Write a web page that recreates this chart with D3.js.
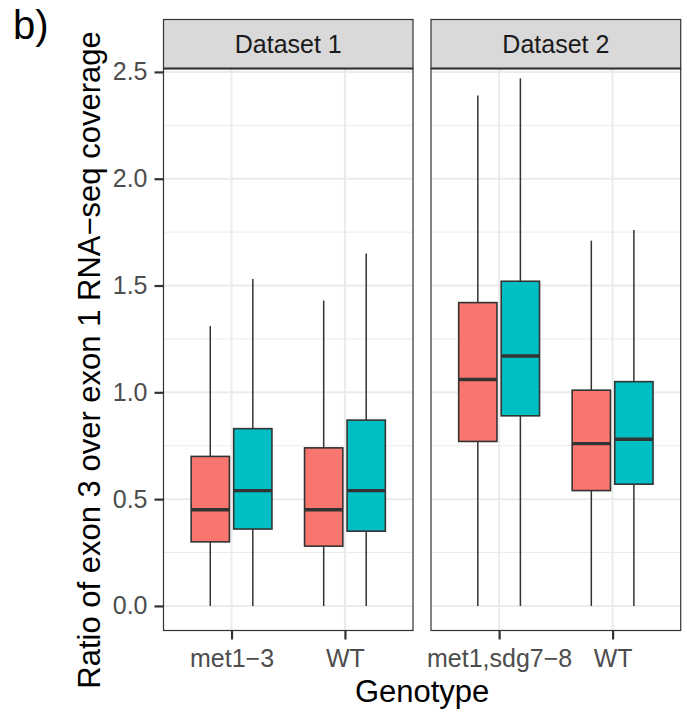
<!DOCTYPE html>
<html>
<head>
<meta charset="utf-8">
<script src="https://cdn.jsdelivr.net/npm/d3@7"></script>
<style>
  body { margin: 0; background: #fff; }
  svg { display: block; font-family: "Liberation Sans", Arial, sans-serif; }
</style>
</head>
<body>
<svg width="687" height="716"></svg>
<script>
// facets, genotypes per facet and the two fill groups
var panels = ['Dataset 1', 'Dataset 2']
var genotypes = [['met1\u22123', 'WT'], ['met1,sdg7\u22128', 'WT']]
var groups = ['g1', 'g2']
var fills = ['#F8766D', '#00BFC4']

// box stats, order: panel > genotype > group
var whiskerLow  = [0, 0, 0, 0, 0, 0, 0, 0]
var q1          = [0.30, 0.36, 0.28, 0.35, 0.77, 0.89, 0.54, 0.57]
var median      = [0.45, 0.54, 0.45, 0.54, 1.06, 1.17, 0.76, 0.78]
var q3          = [0.70, 0.83, 0.74, 0.87, 1.42, 1.52, 1.01, 1.05]
var whiskerHigh = [1.31, 1.53, 1.43, 1.65, 2.39, 2.47, 1.71, 1.76]

var yTicks = [0, 0.5, 1.0, 1.5, 2.0, 2.5]
var yMinor = [0.25, 0.75, 1.25, 1.75, 2.25]

var svg = d3.select('svg')
var panelX = [[163.5, 413], [431, 680.7]]
var stripTop = 19.5, panelTop = 68.5, panelBottom = 630.5

var y = d3.scaleLinear().domain([-0.115, 2.516]).range([panelBottom, panelTop])

panels.forEach(function(name, p){
    var x0 = panelX[p][0], x1 = panelX[p][1]
    var x = d3.scalePoint().domain(genotypes[p]).range([x0, x1]).padding(0.6)
    var sub = d3.scaleBand().domain(groups)
        .range([-0.375 * x.step(), 0.375 * x.step()])
    var bw = sub.bandwidth() * 0.9
    var g = svg.append('g')

    g.append('rect').attr('x', x0).attr('y', panelTop)
        .attr('width', x1 - x0).attr('height', panelBottom - panelTop)
        .attr('fill', '#fff')

    g.selectAll('.minor').data(yMinor).enter().append('line')
        .attr('x1', x0).attr('x2', x1)
        .attr('y1', d => y(d)).attr('y2', d => y(d))
        .attr('stroke', '#EBEBEB').attr('stroke-width', 1)
    g.selectAll('.major').data(yTicks).enter().append('line')
        .attr('x1', x0).attr('x2', x1)
        .attr('y1', d => y(d)).attr('y2', d => y(d))
        .attr('stroke', '#EBEBEB').attr('stroke-width', 2)
    g.selectAll('.vgrid').data(genotypes[p]).enter().append('line')
        .attr('x1', d => x(d)).attr('x2', d => x(d))
        .attr('y1', panelTop).attr('y2', panelBottom)
        .attr('stroke', '#EBEBEB').attr('stroke-width', 2)

    // boxes
    var boxes = []
    genotypes[p].forEach(function(gt, j){
        groups.forEach(function(gr, k){
            var i = p * 4 + j * 2 + k
            boxes.push({gt: gt, gr: gr, k: k, lo: whiskerLow[i], q1: q1[i],
                        med: median[i], q3: q3[i], hi: whiskerHigh[i]})
        })
    })
    var cx = d => x(d.gt) + sub(d.gr) + sub.bandwidth() / 2
    var bx = g.selectAll('.box').data(boxes).enter().append('g')
    bx.append('line')
        .attr('x1', cx).attr('x2', cx)
        .attr('y1', d => y(d.q3)).attr('y2', d => y(d.hi))
        .attr('stroke', '#333333').attr('stroke-width', 1.5)
    bx.append('line')
        .attr('x1', cx).attr('x2', cx)
        .attr('y1', d => y(d.q1)).attr('y2', d => y(d.lo))
        .attr('stroke', '#333333').attr('stroke-width', 1.5)
    bx.append('rect')
        .attr('x', d => cx(d) - bw / 2).attr('width', bw)
        .attr('y', d => y(d.q3)).attr('height', d => y(d.q1) - y(d.q3))
        .attr('fill', d => fills[d.k])
        .attr('stroke', '#333333').attr('stroke-width', 1.6)
    bx.append('line')
        .attr('x1', d => cx(d) - bw / 2).attr('x2', d => cx(d) + bw / 2)
        .attr('y1', d => y(d.med)).attr('y2', d => y(d.med))
        .attr('stroke', '#333333').attr('stroke-width', 3.4)

    g.append('rect').attr('x', x0).attr('y', panelTop)
        .attr('width', x1 - x0).attr('height', panelBottom - panelTop)
        .attr('fill', 'none').attr('stroke', '#333333').attr('stroke-width', 1.2)

    // strip
    g.append('rect').attr('x', x0).attr('y', stripTop)
        .attr('width', x1 - x0).attr('height', panelTop - stripTop)
        .attr('fill', '#D9D9D9').attr('stroke', '#333333').attr('stroke-width', 1.2)
    g.append('line').attr('x1', x0).attr('x2', x1)
        .attr('y1', panelTop).attr('y2', panelTop)
        .attr('stroke', '#333333').attr('stroke-width', 2.2)
    g.append('text').text(name)
        .attr('x', (x0 + x1) / 2).attr('y', (stripTop + panelTop) / 2)
        .attr('text-anchor', 'middle').attr('dominant-baseline', 'central')
        .attr('font-size', 25).attr('fill', '#1A1A1A')

    // x axis
    var ax = g.append('g').attr('transform', 'translate(0,' + panelBottom + ')')
        .call(d3.axisBottom(x).tickSize(9).tickPadding(10))
    ax.select('.domain').remove()
    ax.selectAll('line').attr('stroke', '#333333').attr('stroke-width', 2.2)
    ax.selectAll('text').attr('font-size', 25).attr('fill', '#4D4D4D')
        .attr('font-family', null)
})

// y axis
var ay = svg.append('g').attr('transform', 'translate(' + panelX[0][0] + ',0)')
    .call(d3.axisLeft(y).tickValues(yTicks).tickFormat(d3.format('.1f'))
        .tickSize(9).tickPadding(7))
ay.select('.domain').remove()
ay.selectAll('line').attr('stroke', '#333333').attr('stroke-width', 2.2)
ay.selectAll('text').attr('font-size', 25).attr('fill', '#4D4D4D')
    .attr('font-family', null)

// titles
svg.append('text').text('Genotype')
    .attr('x', (panelX[0][0] + panelX[1][1]) / 2).attr('y', 702)
    .attr('text-anchor', 'middle').attr('font-size', 31).attr('fill', '#000')
svg.append('text').text('Ratio of exon 3 over exon 1 RNA\u2212seq coverage')
    .attr('transform', 'translate(100,360) rotate(-90)')
    .attr('text-anchor', 'middle').attr('font-size', 31).attr('fill', '#000')
svg.append('text').text('b)')
    .attr('x', 13).attr('y', 39)
    .attr('font-size', 40).attr('fill', '#000')
</script>
</body>
</html>
